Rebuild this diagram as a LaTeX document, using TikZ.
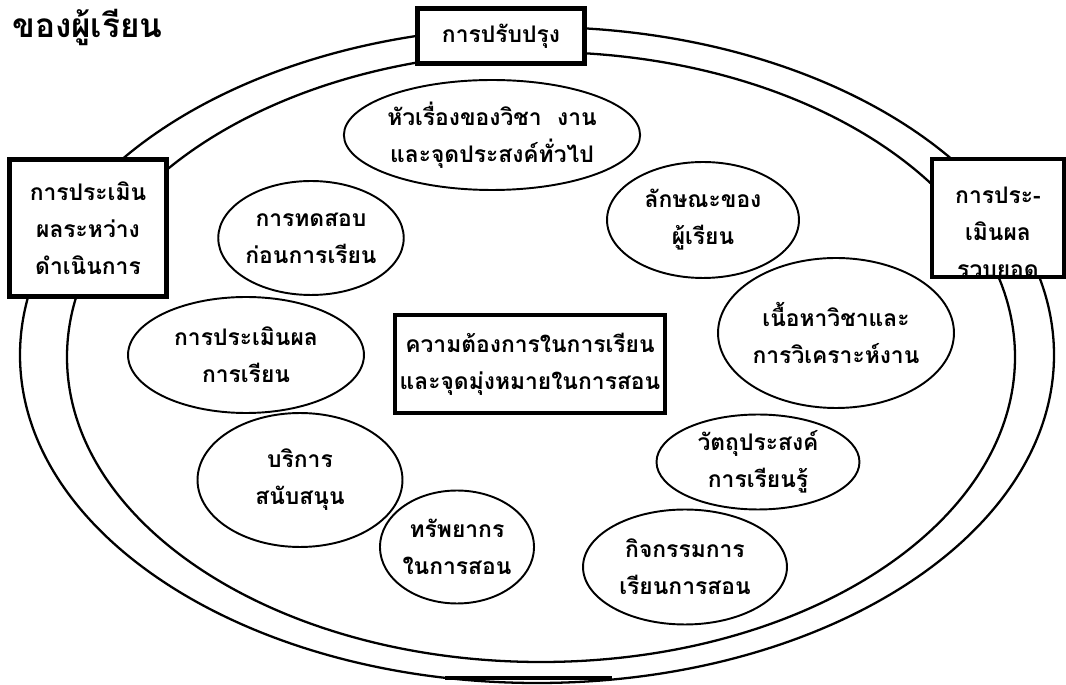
\documentclass[tikz,border=0pt]{standalone}
\usepackage{fontspec}
\newfontfamily\thaifont[Script=Thai]{Loma}
\usepackage{tikz}
\usetikzlibrary{shapes}
\tikzstyle{ring}=[line width=1.3pt]
\tikzstyle{oval}=[ellipse, draw, line width=1.1pt, inner sep=0pt, align=center, font=\thaifont\bfseries\fontsize{13}{21}\selectfont]
\tikzstyle{stage}=[rectangle, draw, line width=2.4pt, fill=white, inner sep=0pt, align=center, font=\thaifont\bfseries\fontsize{13}{21}\selectfont]
\tikzstyle{caption}=[align=center, font=\thaifont\bfseries\fontsize{13}{21}\selectfont]

\begin{document}
\begin{tikzpicture}[x=0.02cm,y=-0.02cm]
	\useasboundingbox (0,0) rectangle (1066,685);
	\draw[ring] (537,355) ellipse [x radius=517, y radius=328];
	\draw[ring] (541,357) ellipse [x radius=474, y radius=305];
	\draw[line width=2.4pt] (445,678) -- (612,678);
	\node[anchor=west, font=\thaifont\bfseries\fontsize{19}{23}\selectfont] (title) at (6,27) {ของผู้เรียน};
	\node[stage, minimum width=3.34cm, minimum height=1.1cm] (improve) at (501,36) {การปรับปรุง};
	\node[stage, minimum width=3.14cm, minimum height=2.74cm] (formative) at (88,228) {การประเมิน\\ผลระหว่าง\\ดำเนินการ};
	\fill[white] (932,159) rectangle (1064,277);
	\begin{scope}
		\clip (932,159) rectangle (1064,276);
		\node[caption, anchor=north] (sumtext) at (998,181) {การประ-\\เมินผล\\รวบยอด};
	\end{scope}
	\node[stage, fill=none, minimum width=2.64cm, minimum height=2.36cm] (summative) at (998,218) {};
	\node[stage, minimum width=5.4cm, minimum height=1.96cm] (needs) at (530,364) {ความต้องการในการเรียน\\และจุดมุ่งหมายในการสอน};
	\node[oval, minimum width=5.36cm, minimum height=2.2cm] (topic) at (492,135) {หัวเรื่องของวิชา~~งาน\\และจุดประสงค์ทั่วไป};
	\node[oval, minimum width=3.84cm, minimum height=2.32cm] (learner) at (703,220) {ลักษณะของ\\ผู้เรียน};
	\node[oval, minimum width=3.56cm, minimum height=2.28cm] (pretest) at (311,238) {การทดสอบ\\ก่อนการเรียน};
	\node[oval, minimum width=4.72cm, minimum height=2.32cm] (evaluate) at (246,355) {การประเมินผล\\การเรียน};
	\node[oval, minimum width=4.66cm, minimum height=3.0cm] (content) at (836,333) {เนื้อหาวิชาและ\\การวิเคราะห์งาน};
	\node[oval, minimum width=4.1cm, minimum height=2.68cm] (support) at (300,480) {บริการ\\สนับสนุน};
	\node[oval, minimum width=3.06cm, minimum height=2.26cm] (resource) at (457,547) {ทรัพยากร\\ในการสอน};
	\node[oval, minimum width=4.06cm, minimum height=1.9cm] (objective) at (758,462) {วัตถุประสงค์\\การเรียนรู้};
	\node[oval, minimum width=4.08cm, minimum height=2.3cm] (activity) at (685,567) {กิจกรรมการ\\เรียนการสอน};
\end{tikzpicture}
\end{document}
